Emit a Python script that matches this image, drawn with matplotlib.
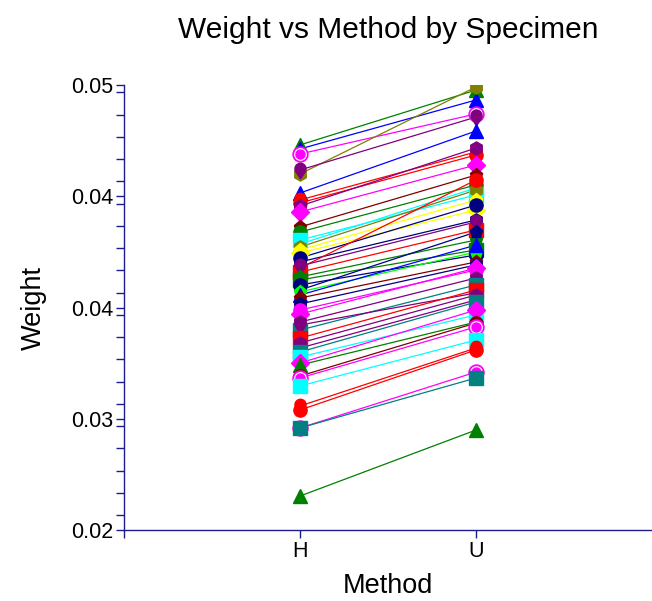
import matplotlib
matplotlib.use("Agg")
import matplotlib.pyplot as plt
import numpy as np
from matplotlib.path import Path
from matplotlib.ticker import FixedLocator, MultipleLocator

plt.rcParams['font.family'] = ['Liberation Sans', 'DejaVu Sans']

methods = ['H', 'U']

# weight per specimen, method H and method U
weight_h = [0.04596, 0.04569, 0.04535, 0.04400, 0.04427, 0.04272, 0.04225, 0.04205, 0.04184, 0.04144,
            0.04043, 0.04009, 0.03955, 0.03928, 0.03908, 0.03888, 0.03868, 0.03834, 0.03807, 0.03766,
            0.03739, 0.03780, 0.03706, 0.03686, 0.03652, 0.03618, 0.03605, 0.03584, 0.03564, 0.03524,
            0.03483, 0.03456, 0.03402, 0.03348, 0.03382, 0.03294, 0.03261, 0.03227, 0.03200, 0.03166,
            0.03126, 0.03112, 0.03038, 0.03025, 0.02971, 0.02836, 0.02809, 0.02688, 0.02688, 0.02229]
weight_u = [0.04966, 0.04899, 0.04805, 0.04987, 0.04784, 0.04690, 0.04549, 0.04528, 0.04575, 0.04461,
            0.04393, 0.04326, 0.04259, 0.04306, 0.04292, 0.04225, 0.04157, 0.04191, 0.04090, 0.04360,
            0.04023, 0.04077, 0.03955, 0.03888, 0.03854, 0.04009, 0.03874, 0.03921, 0.03807, 0.03787,
            0.03753, 0.03766, 0.03699, 0.03652, 0.03598, 0.03618, 0.03584, 0.03551, 0.03537, 0.03450,
            0.03483, 0.03402, 0.03396, 0.03369, 0.03281, 0.03227, 0.03214, 0.03065, 0.03025, 0.02674]

spec_colors = ['green', 'blue', 'magenta', 'olive', 'purple', 'blue', 'red', 'red', 'purple', 'magenta',
               'maroon', 'green', 'cyan', 'cyan', 'olive', 'yellow', 'yellow', 'navy', 'navy', 'red',
               'red', 'purple', 'green', 'green', 'navy', 'navy', 'lime', 'blue', 'maroon', 'navy',
               'magenta', 'magenta', 'purple', 'teal', 'purple', 'red', 'purple', 'purple', 'teal', 'cyan',
               'magenta', 'green', 'maroon', 'magenta', 'cyan', 'red', 'red', 'magenta', 'teal', 'green']
spec_markers = ['^', '^', 'ring', 'h', 'drop', '^', 'drop', 'o', 'h', 'D',
                'p', 'o', 's', '^', 'h', 'p', 'D', 'o', 'h', 'o',
                's', 'drop', 'p', 's', 'o', 'p', 'p', '^', 'p', 'h',
                'o', 'D', 'h', 's', 'drop', 's', 'h', 'drop', 's', 's',
                'D', '^', 'o', 'ring', 's', 'drop', 'o', 'ring', 's', '^']

hexcol = {'green': '#008000', 'blue': '#0000FF', 'magenta': '#FF00FF', 'olive': '#808000',
          'purple': '#800080', 'red': '#FF0000', 'maroon': '#800000', 'cyan': '#00FFFF',
          'yellow': '#FFFF00', 'navy': '#000080', 'lime': '#00FF00', 'teal': '#008080'}

# drop shaped marker (round top, point at bottom)
ang = np.linspace(np.radians(-40), np.radians(220), 30)
drop_verts = list(zip(np.cos(ang), np.sin(ang) + 0.3)) + [(0, -1.5)]
drop = Path(drop_verts + [drop_verts[0]], [Path.MOVETO] + [Path.LINETO] * len(drop_verts))

fig = plt.figure(figsize=(6.52, 6.01), dpi=100)
ax = fig.add_axes([124 / 652, 71 / 601, 528 / 652, 445 / 601])

x = np.arange(len(methods))
for h, u, c, m in zip(weight_h, weight_u, spec_colors, spec_markers):
    col = hexcol[c]
    ax.plot(x, [h, u], color=col, lw=0.9, zorder=2)
    if m == 'ring':
        ax.plot(x, [h, u], ls='none', marker='o', ms=10.5, mfc='white', mec=col, mew=1.3, zorder=3)
        ax.plot(x, [h, u], ls='none', marker='o', ms=6.5, color=col, zorder=3)
    elif m == 'drop':
        ax.plot(x, [h, u], ls='none', marker=drop, ms=12, color=col, mec=col, zorder=3)
    else:
        ax.plot(x, [h, u], ls='none', marker=m, ms=9.5, color=col, mec=col, zorder=3)

ax.set_xlim(-1, 2)
ax.set_ylim(0.02, 0.05)
ax.set_xticks(x)
ax.set_xticklabels(methods)
ax.xaxis.set_minor_locator(FixedLocator([-1]))
yt = [0.02, 0.0275, 0.035, 0.0425, 0.05]
ax.set_yticks(yt)
ax.set_yticklabels(['%.2f' % v for v in [0.02, 0.03, 0.04, 0.04, 0.05]])
ax.yaxis.set_minor_locator(MultipleLocator(0.0015))

axis_col = '#1c1c8c'
for s in ['top', 'right']:
    ax.spines[s].set_visible(False)
for s in ['left', 'bottom']:
    ax.spines[s].set_color(axis_col)
    ax.spines[s].set_linewidth(1.0)
ax.tick_params(which='both', direction='out', color=axis_col, length=6, width=1.0,
               labelsize=15.5, labelcolor='black', pad=2)

ax.set_title('Weight vs Method by Specimen', fontsize=21.5, pad=34)
ax.set_xlabel('Method', fontsize=19.5, labelpad=8)
ax.set_ylabel('Weight', fontsize=19.5, labelpad=17)

fig.savefig('out.png', dpi=100)
